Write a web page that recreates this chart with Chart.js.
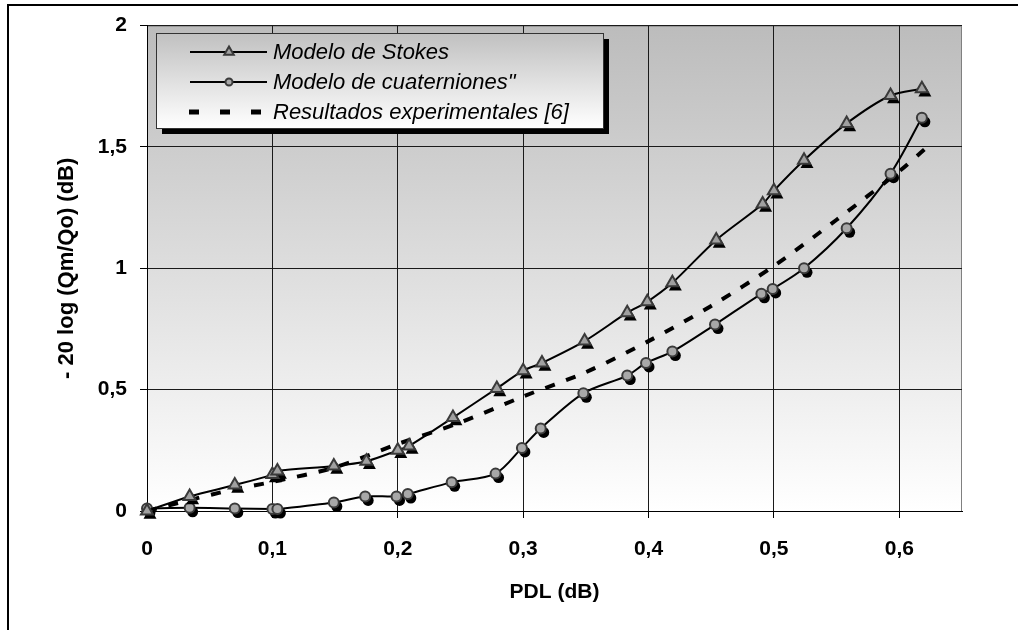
<!DOCTYPE html>
<html>
<head>
<meta charset="utf-8">
<script src="https://cdn.jsdelivr.net/npm/chart.js@4.4.0/dist/chart.umd.min.js"></script>
<style>
    html, body { margin: 0; padding: 0; background: #fff; }
</style>
</head>
<body>
<canvas id="chartPDL" width="1018" height="630"></canvas>
<script>
// Modelo de Stokes
const stokesX = [0, 0.034, 0.07, 0.1, 0.104, 0.149, 0.175, 0.2, 0.209, 0.244, 0.279, 0.3, 0.315, 0.349, 0.383, 0.399, 0.419, 0.454, 0.491, 0.5, 0.524, 0.558, 0.593, 0.618]
const stokesY = [0, 0.06, 0.107, 0.15, 0.165, 0.185, 0.205, 0.25, 0.268, 0.385, 0.505, 0.578, 0.61, 0.70, 0.817, 0.862, 0.94, 1.117, 1.265, 1.32, 1.445, 1.597, 1.712, 1.74]

// Modelo de cuaterniones
const cuatX = [0, 0.034, 0.07, 0.1, 0.104, 0.149, 0.174, 0.199, 0.208, 0.243, 0.278, 0.299, 0.314, 0.348, 0.383, 0.398, 0.419, 0.453, 0.49, 0.499, 0.524, 0.558, 0.593, 0.618]
const cuatY = [0.01, 0.013, 0.01, 0.008, 0.008, 0.035, 0.06, 0.06, 0.07, 0.118, 0.154, 0.26, 0.34, 0.485, 0.558, 0.61, 0.657, 0.768, 0.895, 0.915, 1.0, 1.165, 1.39, 1.62]

// Resultados experimentales
const expX = [0, 0.034, 0.07, 0.1, 0.15, 0.2, 0.25, 0.3, 0.35, 0.4, 0.45, 0.5, 0.55, 0.6, 0.62]
const expY = [0, 0.045, 0.09, 0.12, 0.18, 0.276, 0.365, 0.472, 0.572, 0.70, 0.845, 1.01, 1.2, 1.40, 1.49]

const seriesLabels = ['Modelo de Stokes', 'Modelo de cuaterniones"', 'Resultados experimentales [6]']
const xTicks = [0, 0.1, 0.2, 0.3, 0.4, 0.5, 0.6]
const yTicks = [0, 0.5, 1, 1.5, 2]

function toPoints(xs, ys) {
    return xs.map((x, i) => ({ x: x, y: ys[i] }))
}

function comma(v) {
    return String(Math.round(v * 10) / 10).replace('.', ',')
}

// fondo degradado del area y marco exterior
const frame = {
    id: 'frame',
    beforeDraw(chart) {
        const { ctx, chartArea: a } = chart
        ctx.save()
        let g = ctx.createLinearGradient(0, a.top, 0, a.bottom)
        g.addColorStop(0, '#bcbcbc')
        g.addColorStop(1, '#ffffff')
        ctx.fillStyle = g
        ctx.fillRect(a.left, a.top, a.right - a.left, a.bottom - a.top)
        ctx.strokeStyle = '#808080'
        ctx.lineWidth = 1
        ctx.strokeRect(a.left + 0.5, a.top + 0.5, a.right - a.left - 1, a.bottom - a.top)
        ctx.strokeStyle = '#000'
        ctx.lineWidth = 2
        ctx.beginPath()
        ctx.moveTo(8, 630)
        ctx.lineTo(8, 5)
        ctx.lineTo(1018, 5)
        ctx.stroke()
        ctx.restore()
    }
}

// sombra negra de los marcadores
const shadows = {
    id: 'shadows',
    beforeDatasetDraw(chart, args) {
        const ds = chart.data.datasets[args.index]
        if (!ds.shadow) return
        const ctx = chart.ctx
        ctx.save()
        ctx.fillStyle = '#000'
        args.meta.data.forEach(p => {
            Chart.helpers.drawPoint(ctx, { pointStyle: ds.pointStyle, radius: ds.pointRadius + 0.5, borderWidth: 0, rotation: 0 }, p.x + 3, p.y + 4)
        })
        ctx.restore()
    }
}

// leyenda con caja y sombra
const legendBox = {
    id: 'legendBox',
    afterDatasetsDraw(chart) {
        const ctx = chart.ctx
        const x = 156, y = 33, w = 447, h = 95
        ctx.save()
        ctx.fillStyle = '#000'
        ctx.fillRect(x + 6, y + 6, w, h)
        let g = ctx.createLinearGradient(0, y, 0, y + h)
        g.addColorStop(0, '#c0c0c0')
        g.addColorStop(1, '#ffffff')
        ctx.fillStyle = g
        ctx.fillRect(x, y, w, h)
        ctx.strokeStyle = '#333'
        ctx.lineWidth = 1
        ctx.strokeRect(x + 0.5, y + 0.5, w, h)
        chart.data.datasets.forEach((ds, i) => {
            let ly = y + 19 + i * 30
            ctx.strokeStyle = '#000'
            ctx.fillStyle = '#000'
            if (ds.borderDash && ds.borderDash.length) {
                for (let k = 0; k < 3; k++) ctx.fillRect(189 + k * 31, ly - 2.5, 10, 5)
            } else {
                ctx.lineWidth = 2
                ctx.beginPath()
                ctx.moveTo(190, ly)
                ctx.lineTo(267, ly)
                ctx.stroke()
                ctx.fillStyle = ds.pointBackgroundColor
                ctx.strokeStyle = ds.pointBorderColor
                Chart.helpers.drawPoint(ctx, { pointStyle: ds.pointStyle, radius: ds.pointRadius - 1.5, borderWidth: 2, rotation: 0 }, 229, ly)
            }
            ctx.fillStyle = '#000'
            ctx.font = 'italic 22px "Liberation Sans", Arial, sans-serif'
            ctx.textBaseline = 'middle'
            ctx.fillText(ds.label, 273, ly + 1)
        })
        ctx.restore()
    }
}

const tickFont = { family: '"Liberation Sans", Arial, sans-serif', size: 21, weight: 'bold' }
const yTitleFont = { family: '"Liberation Sans", Arial, sans-serif', size: 22, weight: 'bold' }

var ctx = document.getElementById('chartPDL').getContext('2d')
var chart = new Chart(ctx, {
    type: 'line',
    data: {
        datasets: [{
            label: seriesLabels[0],
            data: toPoints(stokesX, stokesY),
            borderColor: '#000',
            borderWidth: 2,
            tension: 0.3,
            pointStyle: 'triangle',
            pointRadius: 7,
            pointBackgroundColor: '#a0a0a0',
            pointBorderColor: '#3a3a3a',
            pointBorderWidth: 2,
            shadow: true,
            clip: false
        }, {
            label: seriesLabels[1],
            data: toPoints(cuatX, cuatY),
            borderColor: '#000',
            borderWidth: 2,
            tension: 0.3,
            pointStyle: 'circle',
            pointRadius: 5,
            pointBackgroundColor: '#a8a8a8',
            pointBorderColor: '#3a3a3a',
            pointBorderWidth: 2,
            shadow: true,
            clip: false
        }, {
            label: seriesLabels[2],
            data: toPoints(expX, expY),
            borderColor: '#000',
            borderWidth: 4,
            borderDash: [10, 12],
            tension: 0.3,
            pointRadius: 0,
            clip: false
        }]
    },
    options: {
        responsive: false,
        animation: false,
        layout: { padding: { top: 25, right: 56, left: 0, bottom: 0 } },
        plugins: {
            legend: { display: false },
            tooltip: { enabled: false }
        },
        scales: {
            x: {
                type: 'linear',
                min: 0,
                max: 0.65,
                afterFit: s => { s.height = 119 },
                afterBuildTicks: s => { s.ticks = xTicks.map(v => ({ value: v })) },
                ticks: { stepSize: 0.1, includeBounds: false, color: '#000', font: tickFont, padding: 19, maxRotation: 0, callback: v => comma(v) },
                grid: { color: '#1a1a1a', tickColor: '#000', tickLength: 7, lineWidth: 1 },
                border: { color: '#000' },
                title: { display: true, text: 'PDL (dB)', color: '#000', font: tickFont, padding: { top: 0, bottom: 25 } }
            },
            y: {
                min: 0,
                max: 2,
                afterFit: s => { s.width = 147 },
                afterBuildTicks: s => { s.ticks = yTicks.map(v => ({ value: v })) },
                ticks: { stepSize: 0.5, color: '#000', font: tickFont, padding: 13, callback: v => comma(v) },
                grid: { color: '#1a1a1a', tickColor: '#000', tickLength: 7, lineWidth: 1 },
                border: { color: '#000' },
                title: { display: true, text: '- 20 log (Qm/Qo) (dB)', color: '#000', font: yTitleFont, padding: { top: 54, bottom: 0 } }
            }
        }
    },
    plugins: [frame, shadows, legendBox]
})
</script>
</body>
</html>
